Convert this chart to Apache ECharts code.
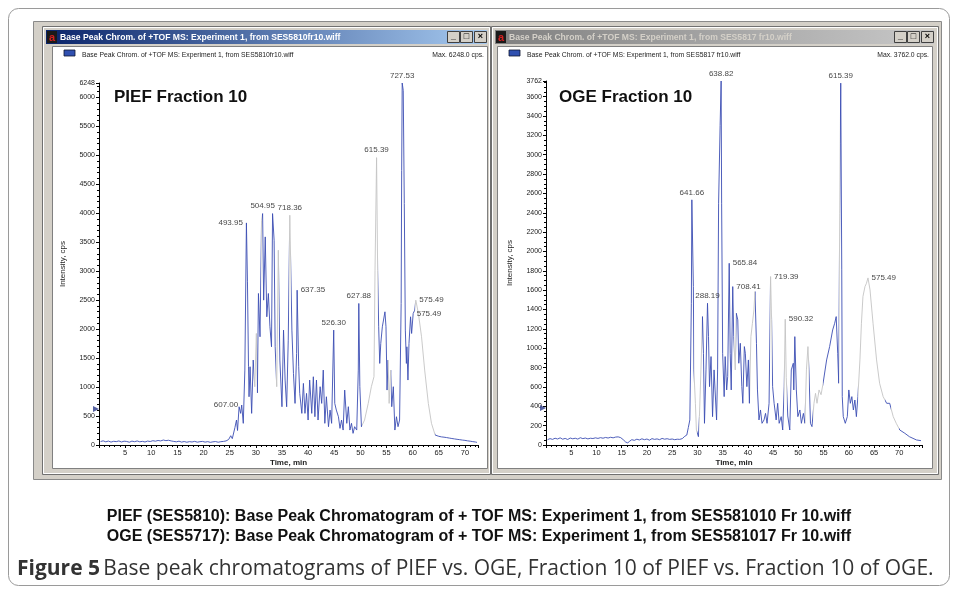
<!DOCTYPE html>
<html><head><meta charset="utf-8">
<script src="https://cdn.jsdelivr.net/npm/echarts@6/dist/echarts.min.js"></script>
<style>html,body{margin:0;padding:0;background:#fff}#c{width:958px;height:589px}</style>
</head><body><div id="c"></div>
<script>
// ---------- data (time in min, intensity in cps) ----------
const leftTrace = [
[0.3,60],[0.8,72],[1.3,55],[1.8,68],[2.3,50],[2.8,64],[3.3,58],[3.8,70],[4.3,52],[4.8,66],[5.3,61],[5.8,48],[6.3,67],[6.8,57],[7.3,70],[7.8,55],[8.3,63],[8.8,52],[9.3,68],[9.8,60],[10.3,74],[10.8,66],[11.3,78],[11.8,70],[12.3,86],[12.8,75],[13.3,82],[13.8,70],[14.3,62],[14.8,55],[15.3,66],[15.8,50],[16.3,60],[16.8,48],[17.3,58],[17.8,52],[18.3,63],[18.8,49],[19.3,57],[19.8,62],[20.3,50],[20.8,58],[21.3,46],[21.8,55],[22.3,60],[22.8,48],[23.3,57],[23.8,62],[24.3,70],[24.8,95],[25.2,160],
[25.5,110],[25.7,143],[26.0,300],[26.3,431],[26.5,250],[26.8,660],[27.1,546],[27.3,690],[27.6,374],[27.9,1293],[28.2,3833],[28.4,2816],[28.6,1351],[28.7,833],[28.9,1351],[29.2,546],[29.5,1466],[29.8,1006],[30.1,1925],[30.3,900],[30.5,2615],[30.8,1868],[31.1,3879],[31.3,3994],[31.5,2500],[31.8,3592],[32.1,2213],[32.4,2615],[32.7,2040],[33.0,1695],[33.2,3994],[33.5,3534],[33.7,1695],[34.0,1006],[34.3,3362],[34.6,1466],[35.0,660],[35.3,1983],[35.6,1121],[35.9,660],[36.2,1810],[36.5,3966],[36.9,1983],[37.2,1236],[37.5,718],[37.8,1580],[37.9,2672],[38.2,1351],[38.4,891],[38.8,546],[39.1,1063],[39.4,546],[39.7,891],[40.0,431],[40.3,1121],[40.7,546],[41.0,1178],[41.3,488],[41.6,1121],[41.9,431],[42.3,1006],[42.6,718],[42.9,1293],[43.2,374],[43.5,833],[43.9,316],[44.2,603],[44.5,374],[44.9,1983],[45.1,718],[45.4,603],[45.8,488],[46.1,287],[46.4,431],[46.7,258],[47.0,948],[47.4,374],[47.7,661],[48.0,258],[48.3,374],[48.6,201],[48.9,316],[49.3,258],[49.6,1293],[49.7,2443],[49.9,1006],[50.2,316],[50.8,431],[51.5,718],[52.1,1006],[52.6,1178],[52.8,3017],[53.1,4960],[53.3,3017],[53.5,2040],[53.7,1408],[53.9,1753],[54.2,2040],[54.7,2299],[54.9,2040],[55.1,948],[55.3,1466],[55.5,718],[55.8,1293],[56.0,661],[56.3,1006],[56.6,258],[56.9,488],[57.2,316],[57.5,431],[57.8,2443],[57.9,4741],[58.0,6248],[58.2,6120],[58.4,4167],[58.6,1983],[58.8,1408],[58.9,1695],[59.1,1121],[59.3,1753],[59.6,2213],[59.8,1925],[60.1,2270],[60.4,2327],[60.6,2500],[61.1,2270],[61.7,1868],[62.3,1293],[63.0,718],[63.6,374],[64.3,172],[65.0,150],[65.5,140],[66.0,135],[66.5,128],[67.0,120],[67.5,112],[68.0,105],[68.5,98],[69.0,92],[69.5,85],[70.0,80],[70.5,72],[71.0,66],[71.5,58],[72.0,52],[72.3,45]
];
const rightTrace = [
[0.3,55],[0.8,66],[1.3,58],[1.8,70],[2.3,62],[2.8,74],[3.3,60],[3.8,68],[4.3,57],[4.8,72],[5.3,64],[5.8,70],[6.3,61],[6.8,75],[7.3,66],[7.8,72],[8.3,63],[8.8,70],[9.3,67],[9.8,74],[10.3,68],[10.8,76],[11.3,70],[11.8,78],[12.3,72],[12.8,80],[13.3,74],[13.8,82],[14.3,84],[14.8,76],[15.3,55],[15.8,30],[16.2,22],[16.6,40],[17.0,55],[17.5,48],[18.0,60],[18.5,52],[19.0,64],[19.5,55],[20.0,62],[20.5,50],[21.0,66],[21.5,58],[22.0,63],[22.5,55],[23.0,68],[23.5,60],[24.0,65],[24.5,58],[25.0,62],[25.5,55],[26.0,60],[26.5,58],[27.0,66],[27.5,90],
[27.9,103],[28.2,180],[28.5,259],[28.8,1465],[28.9,2534],[29.2,1637],[29.3,776],[29.6,431],[29.8,155],[30.2,86],[30.4,293],[30.7,776],[31.0,1327],[31.2,948],[31.4,224],[31.7,776],[32.0,1465],[32.2,1120],[32.4,603],[32.7,914],[33.0,293],[33.3,776],[33.5,569],[33.8,259],[34.0,776],[34.2,2499],[34.5,3300],[34.7,3762],[34.8,2499],[35.0,948],[35.3,500],[35.5,914],[35.8,569],[36.0,707],[36.3,1878],[36.5,948],[36.7,569],[37.0,1637],[37.2,1120],[37.5,776],[37.7,1362],[38.0,1293],[38.2,845],[38.5,1051],[38.8,603],[39.0,431],[39.3,1017],[39.5,948],[39.8,603],[40.1,879],[40.3,431],[40.6,1120],[40.9,1258],[41.2,1396],[41.4,1586],[41.7,1051],[41.9,569],[42.2,259],[42.5,362],[42.8,224],[43.2,259],[43.5,327],[43.8,224],[44.2,431],[44.5,1741],[44.7,1293],[44.9,603],[45.2,431],[45.6,259],[45.9,431],[46.2,224],[46.6,293],[46.9,155],[47.2,600],[47.4,1300],[47.6,700],[47.9,300],[48.3,155],[48.6,776],[49.0,845],[49.1,569],[49.3,1120],[49.5,1137],[49.6,569],[49.9,293],[50.3,362],[50.6,224],[51.0,327],[51.3,224],[51.6,776],[51.9,1017],[52.1,776],[52.4,224],[52.7,190],[53.1,431],[53.4,534],[53.7,431],[54.1,569],[54.5,520],[54.9,638],[55.6,879],[56.2,1017],[56.8,1189],[57.2,1258],[57.5,1327],[57.8,948],[58.0,638],[58.2,2396],[58.3,3120],[58.4,3740],[58.6,1810],[58.7,500],[58.9,293],[59.3,224],[59.7,293],[60.0,569],[60.3,431],[60.6,500],[60.9,362],[61.2,465],[61.5,293],[61.8,500],[62.2,879],[62.5,1258],[62.8,1534],[63.2,1637],[63.5,1672],[63.8,1727],[64.2,1603],[64.8,1258],[65.5,879],[66.1,638],[66.8,500],[67.5,431],[68.1,431],[68.8,293],[69.4,224],[70.1,155],[71.1,121],[72.0,86],[73.4,52],[74.3,45]
];
const leftPeaks = [[27.3,690,'607.00'],[28.2,3833,'493.95'],[31.3,3994,'504.95'],[36.5,3966,'718.36'],[37.9,2672,'637.35'],[44.9,1983,'526.30'],[49.7,2443,'627.88'],[53.1,4960,'615.39'],[58.0,6248,'727.53'],[60.6,2500,'575.49'],[60.1,2270,'575.49']];
const rightPeaks = [[28.9,2534,'641.66'],[32.0,1465,'288.19'],[34.7,3762,'638.82'],[36.3,1878,'565.84'],[37.0,1637,'708.41'],[44.5,1741,'719.39'],[47.4,1300,'590.32'],[58.4,3740,'615.39'],[63.8,1727,'575.49']];
const leftYTickStep = 500, rightYTickStep = 200, xTickStep = 5;
const leftMax = 6248, rightMax = 3762;
const leftThreshold = 620, rightThreshold = 383;
const windowTitles = ['Base Peak Chrom. of +TOF MS: Experiment 1, from SES5810fr10.wiff','Base Peak Chrom. of +TOF MS: Experiment 1, from SES5817 fr10.wiff'];
const maxTexts = ['Max. 6248.0 cps.','Max. 3762.0 cps.'];
const panelTitles = ['PIEF Fraction 10','OGE Fraction 10'];
const captionLines = ['PIEF (SES5810): Base Peak Chromatogram of + TOF MS: Experiment 1, from SES581010 Fr 10.wiff','OGE (SES5717): Base Peak Chromatogram of + TOF MS: Experiment 1, from SES581017 Fr 10.wiff'];

// ---------- styling ----------
const leftLabelPos = ['left','left','top','top','right','top','top','top','top','right','right'];
const rightLabelPos = ['top','top','top','right','right','right','right','top','right'];
// time ranges where the scanned trace renders pale grey (anti-aliasing look)
const leftGreyRanges = [[29.6,30.2],[31.0,31.2],[33.9,34.5],[36.3,36.8],[50.3,53.4],[55.2,55.9],[60.5,64.3]];
const rightGreyRanges = [[29.25,29.9],[30.3,30.9],[37.3,37.7],[40.5,41.5],[44.3,44.8],[47.1,47.7],[51.4,52.1],[53.0,54.8],[58.0,58.2],[61.9,67.2],[68.4,69.9]];
const BLUE = '#3b4db3', GREY = '#c4c4c4';
const F = 'Liberation Sans, Arial, sans-serif';

function xAxis(gi, max){
  return {gridIndex:gi,type:'value',min:0,max:max,interval:xTickStep,
    name:'Time, min',nameLocation:'middle',nameGap:14,nameMoveOverlap:false,
    nameTextStyle:{fontSize:8,fontFamily:F,color:'#222',fontWeight:'bold',verticalAlign:'top'},
    axisLine:{onZero:false,lineStyle:{color:'#000',width:1}},
    axisTick:{length:3,lineStyle:{color:'#000'}},
    minorTick:{show:true,splitNumber:5,length:2,lineStyle:{color:'#000'}},
    splitLine:{show:false},
    axisLabel:{fontSize:7.5,fontFamily:F,color:'#222',margin:4,showMinLabel:false,
      formatter:v=>(v>0&&Math.abs(v%5)<1e-6)?String(v):''}};
}
function yAxis(gi, max, step, minorSplit){
  return {gridIndex:gi,type:'value',min:0,max:max,interval:step,
    name:'Intensity, cps',nameLocation:'middle',nameGap:32,nameMoveOverlap:false,nameTextStyle:{fontSize:8,fontFamily:F,color:'#222'},
    axisLine:{show:true,onZero:false,lineStyle:{color:'#000',width:1}},
    axisTick:{show:true,length:3,lineStyle:{color:'#000'}},
    minorTick:{show:true,splitNumber:minorSplit,length:2,lineStyle:{color:'#000'}},
    splitLine:{show:false},
    axisLabel:{fontSize:7,fontFamily:F,color:'#222',margin:4,showMaxLabel:true,formatter:v=>String(Math.round(v))}};
}
function trace(data, i){
  return {type:'line',xAxisIndex:i,yAxisIndex:i,data:data,symbol:'none',showSymbol:false,
    lineStyle:{width:0.9},animation:false,z:3};
}
function greyMap(ranges, si){
  return {type:'piecewise',show:false,seriesIndex:si,dimension:0,
    pieces:ranges.map(r=>({gte:r[0],lt:r[1],color:GREY})),outOfRange:{color:BLUE}};
}
function peaks(list, pos, i){
  return {type:'scatter',xAxisIndex:i,yAxisIndex:i,symbolSize:1,itemStyle:{color:'rgba(0,0,0,0)'},silent:true,z:5,
    data:list.map((p,k)=>({value:[p[0],p[1]],name:p[2],
      label:{show:true,position:pos[k],distance:3,formatter:'{b}',fontSize:8,fontFamily:F,color:'#111'}}))};
}
function thresh(v, i){
  return {type:'scatter',xAxisIndex:i,yAxisIndex:i,data:[[0,v]],symbol:'triangle',symbolRotate:-90,symbolSize:[6,6],symbolOffset:[-3,0],
    itemStyle:{color:'#2b3a8a'},silent:true,z:6};
}

// ---------- window chrome ----------
function win(fx, fw, tx, tw, cx, cw, active, k){
  const g = [];
  g.push({type:'rect',z:-20,shape:{x:fx+0.5,y:26.5,width:fw,height:448},style:{fill:'#d4d0c8',stroke:'#707070',lineWidth:1}});
  g.push({type:'rect',z:-19,shape:{x:fx+1.5,y:27.5,width:fw-2,height:446},style:{fill:'none',stroke:'#ffffff',lineWidth:1}});
  g.push({type:'rect',z:-18,shape:{x:tx,y:30,width:tw,height:14},style:{fill:new echarts.graphic.LinearGradient(0,0,1,0,
      active?[{offset:0,color:'#0a246a'},{offset:1,color:'#a6caf0'}]:[{offset:0,color:'#808080'},{offset:1,color:'#c8c8c8'}])}});
  g.push({type:'rect',z:-17,shape:{x:tx+1,y:31,width:10,height:12},style:{fill:'#1a1a1a'}});
  g.push({type:'text',z:-16,style:{x:tx+6,y:37.5,text:'a',font:'bold 11px '+F,fill:'#d42020',textAlign:'center',textVerticalAlign:'middle'}});
  g.push({type:'text',z:-16,style:{x:tx+14,y:37.5,text:windowTitles[k],font:'bold 8.6px '+F,fill:active?'#ffffff':'#d4d0c8',textVerticalAlign:'middle'}});
  const bx = tx+tw-40;
  ['_','□','×'].forEach((s,j)=>{
    const x = bx + j*13 + (j===2?1:0);
    g.push({type:'rect',z:-16,shape:{x:x+0.5,y:31.5,width:12,height:11},style:{fill:'#d4d0c8',stroke:'#404040',lineWidth:1}});
    g.push({type:'text',z:-15,style:{x:x+6.5,y:37,text:s,font:'bold 9px '+F,fill:'#000',textAlign:'center',textVerticalAlign:'middle'}});
  });
  g.push({type:'rect',z:-18,shape:{x:cx+0.5,y:46.5,width:cw,height:422},style:{fill:'#ffffff',stroke:'#808080',lineWidth:1}});
  g.push({type:'rect',z:-17,shape:{x:cx+12,y:50,width:11,height:6},style:{fill:'#3050b0',stroke:'#101830',lineWidth:0.8}});
  g.push({type:'text',z:-16,style:{x:cx+30,y:55,text:windowTitles[k],font:'6.8px '+F,fill:'#222',textVerticalAlign:'middle'}});
  g.push({type:'text',z:-16,style:{x:cx+cw-3,y:55,text:maxTexts[k],font:'6.8px '+F,fill:'#222',textAlign:'right',textVerticalAlign:'middle'}});
  g.push({type:'text',z:10,style:{x:cx+62,y:97,text:panelTitles[k],font:'bold 17px '+F,fill:'#111',textVerticalAlign:'middle'}});
  return g;
}
const graphics = [
  {type:'rect',z:-30,shape:{x:8.5,y:8.5,width:941,height:577,r:10},style:{fill:'#ffffff',stroke:'#9a9a9a',lineWidth:1}},
  {type:'rect',z:-25,shape:{x:33.5,y:21.5,width:908,height:458},style:{fill:'#d4d0c8',stroke:'#8a8a8a',lineWidth:1}},
  ...win(42,448,46,441,52,435,true,0),
  ...win(491,447,495,439,497,435,false,1),
  {type:'text',style:{x:479,y:517,text:captionLines[0],font:'bold 16px '+F,fill:'#111',textAlign:'center',textVerticalAlign:'middle'}},
  {type:'text',style:{x:479,y:537,text:captionLines[1],font:'bold 16px '+F,fill:'#111',textAlign:'center',textVerticalAlign:'middle'}},
  {type:'text',style:{x:17,y:569,text:'{b|Figure 5} {n|Base peak chromatograms of PIEF vs. OGE, Fraction 10 of PIEF vs. Fraction 10 of OGE.}',
    rich:{b:{font:'bold 21px Open Sans',fill:'#333'},n:{font:'21px Open Sans',fill:'#333'}},textVerticalAlign:'middle'}}
];

const chart = echarts.init(document.getElementById('c'),null,{renderer:'canvas'});
chart.setOption({
  animation:false,
  backgroundColor:'#ffffff',
  grid:[{left:99,top:83,width:379,height:362},{left:546,top:81,width:376,height:364}],
  xAxis:[xAxis(0,72.5),xAxis(1,74.5)],
  yAxis:[yAxis(0,leftMax,leftYTickStep,5),yAxis(1,rightMax,rightYTickStep,4)],
  visualMap:[greyMap(leftGreyRanges,0),greyMap(rightGreyRanges,1)],
  series:[trace(leftTrace,0),trace(rightTrace,1),peaks(leftPeaks,leftLabelPos,0),peaks(rightPeaks,rightLabelPos,1),thresh(leftThreshold,0),thresh(rightThreshold,1)],
  graphic:graphics
});
</script></body></html>
